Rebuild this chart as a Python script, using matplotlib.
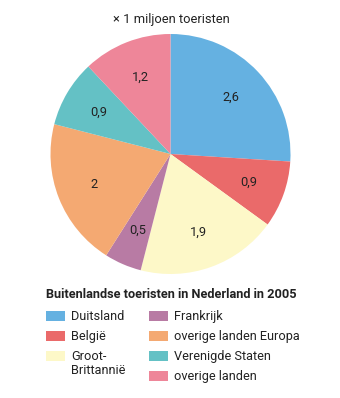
import matplotlib.pyplot as plt
from matplotlib.patches import Rectangle

landen = ['Duitsland', 'België', 'Groot-\nBrittannië', 'Frankrijk',
          'overige landen Europa', 'Verenigde Staten', 'overige landen']
waarden = [2.6, 0.9, 1.9, 0.5, 2, 0.9, 1.2]
labels = ['2,6', '0,9', '1,9', '0,5', '2', '0,9', '1,2']
kleuren = ['#65b1e1', '#ea6a6a', '#fdf8c8', '#b87ba4', '#f4a972', '#64c1c5', '#ee8699']

plt.rcParams['font.family'] = ['Roboto', 'DejaVu Sans']
tekst = '#222222'

W, H = 340, 398
fig = plt.figure(figsize=(W / 100, H / 100), dpi=100)

# taart
cx, cy, r = 170.5, 154, 120
ax = fig.add_axes([(cx - r) / W, (H - cy - r) / H, 2 * r / W, 2 * r / H])
wedges, txts = ax.pie(waarden, colors=kleuren, startangle=90, counterclock=False,
                      labels=labels, labeldistance=0.69,
                      textprops=dict(fontsize=9.3, color=tekst, ha='center', va='center'))
ax.set_xlim(-1, 1)
ax.set_ylim(-1, 1)
ax.set_aspect('equal')
ax.axis('off')

fig.text(171 / W, 1 - 20 / H, '× 1 miljoen toeristen', ha='center', va='center',
         fontsize=9.3, color=tekst)

# legenda
fig.text(46 / W, 1 - 294 / H, 'Buitenlandse toeristen in Nederland in 2005',
         ha='left', va='center', fontsize=9.2, fontweight='bold', color=tekst)

rijen_y = [316, 336, 356, 376]
posities = [(0, 0), (0, 1), (0, 2), (1, 0), (1, 1), (1, 2), (1, 3)]
kol_x = [46, 149]
for naam, kleur, (k, rij) in zip(landen, kleuren, posities):
    x = kol_x[k]
    y = rijen_y[rij]
    fig.patches.append(Rectangle((x / W, 1 - (y + 5) / H), 19 / W, 10 / H,
                                 facecolor=kleur, edgecolor='none',
                                 transform=fig.transFigure, figure=fig))
    fig.text((x + 25) / W, 1 - (y - 6) / H, naam, ha='left', va='top',
             fontsize=9.2, color=tekst, linespacing=1.05)

fig.savefig('out.png', dpi=100)
